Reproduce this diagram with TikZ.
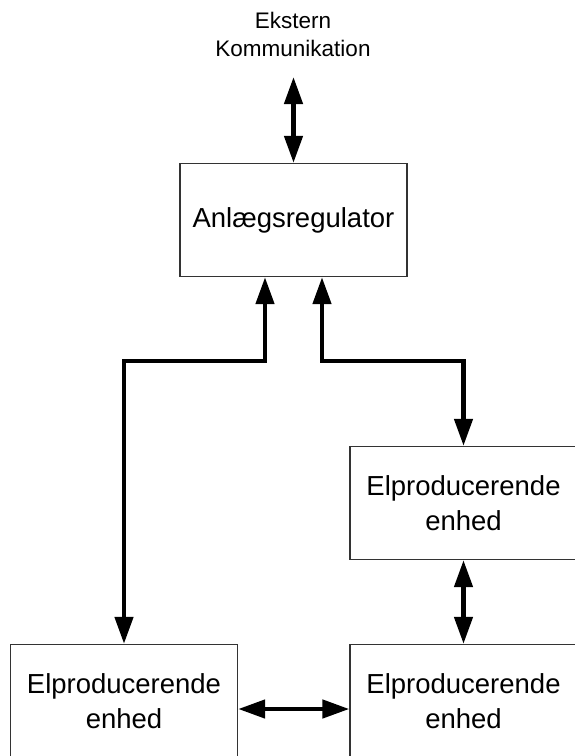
\documentclass[tikz,border=0pt]{standalone}
\usepackage{fontspec}
\setmainfont{Liberation Sans}
\usetikzlibrary{arrows.meta,calc}
\tikzset{
  unitbox/.style={draw=black!80, line width=1.3pt, fill=white, minimum width=227pt, minimum height=113pt,
    inner sep=0pt, align=center, font=\fontsize{27.5}{34.5}\selectfont},
  conn/.style={line width=4.5pt, {Triangle[length=27pt,width=18pt]}-{Triangle[length=27pt,width=18pt]}},
}
\begin{document}
\begin{tikzpicture}[x=1pt,y=-1pt]
\useasboundingbox (0,0) rectangle (574,756);
\node[align=center, font=\fontsize{22.5}{28}\selectfont] (ext) at (293,34) {Ekstern\\Kommunikation};
\coordinate (extend) at (293.5,77);
\node[unitbox] (ctrl) at (293.5,220) {Anlægsregulator};
\node[unitbox] (p1) at (463.5,503) {Elproducerende\\enhed};
\node[unitbox] (p2) at (124,701) {Elproducerende\\enhed};
\node[unitbox] (p3) at (463.5,701) {Elproducerende\\enhed};
\draw[conn] (extend) -- (ctrl.north);
\draw[conn, line join=miter] ([xshift=-28.5pt]ctrl.south) -- ++(0,84) -| (p2.north);
\draw[conn, line join=miter] ([xshift=28.5pt]ctrl.south) -- ++(0,84) -| (p1.north);
\draw[conn] (p1.south) -- (p3.north);
\draw[conn] ([yshift=-8pt]p2.east) -- ([yshift=-8pt]p3.west);
\end{tikzpicture}
\end{document}
